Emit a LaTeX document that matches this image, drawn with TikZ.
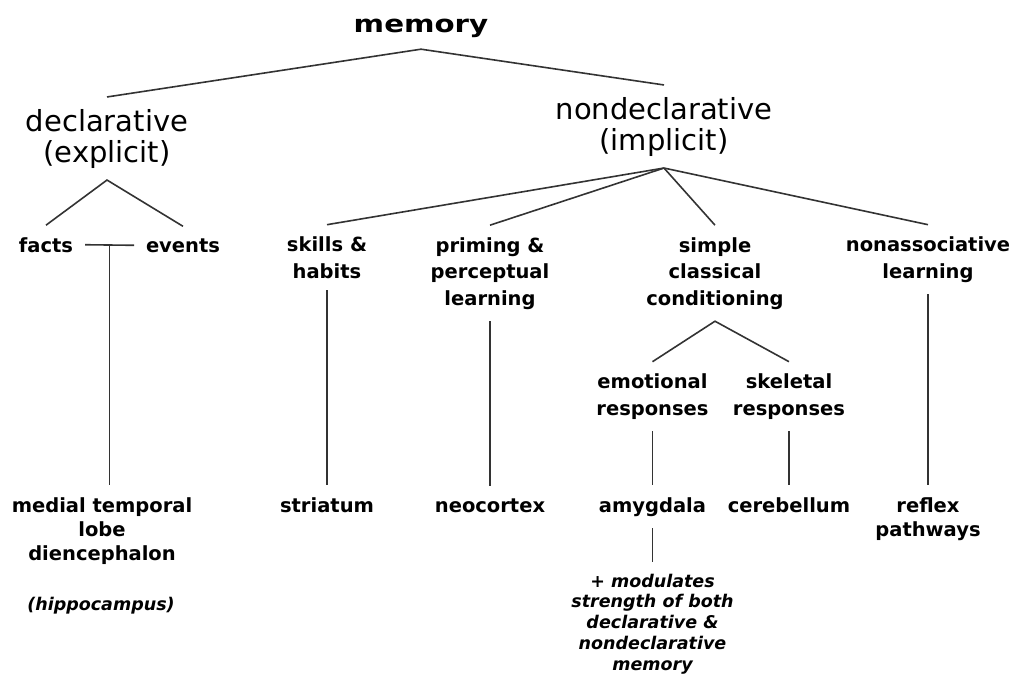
\documentclass[tikz,border=0pt]{standalone}
\usepackage{fontspec}
\usetikzlibrary{calc}
\setmainfont{DejaVu Sans}
\newfontfamily\memfont[FakeStretch=1.22]{DejaVu Sans}
\begin{document}
\begin{tikzpicture}[x=1pt,y=-1pt,
  lbl/.style={inner sep=0pt, outer sep=12pt, align=center, anchor=base},
  blbl/.style={lbl, font=\fontsize{19.5}{26.5}\selectfont\bfseries},
  rlbl/.style={lbl, font=\fontsize{29}{31}\selectfont},
  ilbl/.style={lbl, font=\fontsize{17.5}{20.7}\selectfont\bfseries\itshape},
  conn/.style={draw=black!80, line width=1.6pt}]
\useasboundingbox (0,0) rectangle (1021,673);
% nodes (anchor = baseline of the last line)
\node[lbl, font=\fontsize{24}{28}\memfont\bfseries] (mem) at (421,32) {memory};
\node[rlbl] (decl) at (107,162) {declarative\\(explicit)};
\node[rlbl] (nondecl) at (664,150) {nondeclarative\\(implicit)};
\node[blbl] (facts) at (46,252) {facts};
\node[blbl] (events) at (183,252) {events};
\node[blbl] (skills) at (327,278) {skills \&\\habits};
\node[blbl] (priming) at (490,305) {priming \&\\perceptual\\learning};
\node[blbl] (simple) at (715,305) {simple\\classical\\conditioning};
\node[blbl] (nonassoc) at (928,278) {nonassociative\\learning};
\node[blbl] (emot) at (652.5,415) {emotional\\responses};
\node[blbl] (skel) at (789,415) {skeletal\\responses};
\node[blbl, font=\fontsize{19.5}{24}\selectfont\bfseries] (medial) at (102,560) {medial temporal\\lobe\\diencephalon};
\node[blbl] (striatum) at (327,512) {striatum};
\node[blbl] (neocortex) at (490,512) {neocortex};
\node[blbl] (amygdala) at (652.5,512) {amygdala};
\node[blbl] (cerebellum) at (789,512) {cerebellum};
\node[blbl, font=\fontsize{19.5}{24}\selectfont\bfseries] (reflex) at (928,536) {reflex\\pathways};
\node[ilbl] (hippo) at (101,610) {(hippocampus)};
\node[ilbl] (modul) at (652.5,670) {+ modulates\\strength of both\\declarative \&\\nondeclarative\\memory};
% connectors
\draw[conn] (decl.north) -- (mem.south) -- (nondecl.north);
\draw[conn] (facts.north) -- (decl.south) -- (events.north);
\draw[conn] (facts.east) -- (events.west);
\coordinate (fe) at ($(facts.east)!0.5!(events.west)$);
\draw[conn] (fe) -- (fe |- medial.north);
\draw[conn] (skills.north) -- (nondecl.south);
\draw[conn] (priming.north) -- (nondecl.south);
\draw[conn] (simple.north) -- (nondecl.south);
\draw[conn] (nonassoc.north) -- (nondecl.south);
\draw[conn] (skills.south) -- (striatum.north);
\draw[conn] (priming.south) -- (neocortex.north);
\draw[conn] (emot.north) -- (simple.south) -- (skel.north);
\draw[conn] (emot.south) -- (amygdala.north);
\draw[conn] (skel.south) -- (cerebellum.north);
\draw[conn] (nonassoc.south) -- (reflex.north);
\draw[conn] (amygdala.south) -- (modul.north);
\end{tikzpicture}
\end{document}
